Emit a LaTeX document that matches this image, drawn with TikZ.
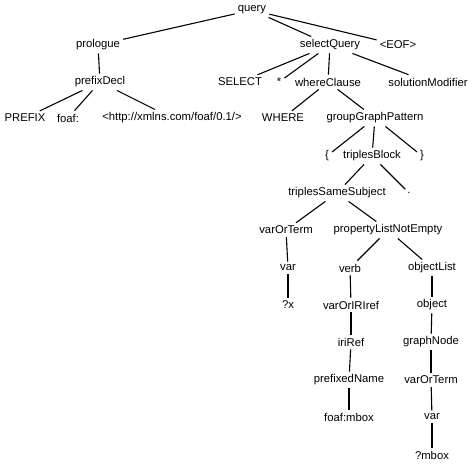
\documentclass[tikz,border=0pt]{standalone}
\usepackage{fontspec}
\setmainfont{Liberation Sans}
\usepackage{tikz}
\usetikzlibrary{positioning}

\begin{document}
\begin{tikzpicture}[x=1pt, y=-1pt, font=\fontsize{11.3}{13}\selectfont,
  tok/.style={inner sep=3pt},
  edge/.style={line width=1.1pt}]
\useasboundingbox (0,0) rectangle (474,466);
% root and first level
\node[tok] (query) at (252,10) {query};
\node[tok] (prologue) at (98,45) {prologue};
\node[tok] (selq) at (330,45) {selectQuery};
\node[tok] (eof) at (398,45) {<EOF>};

% prologue side
\node[tok] (pdecl) at (100,82) {prefixDecl};
\node[tok] (prefix) at (25,118) {PREFIX};
\node[tok] (foaf) at (68,118) {foaf:};
\node[tok] (iri) at (172,118) {<http://xmlns.com/foaf/0.1/>};

% select query side
\node[tok] (select) at (240,82) {SELECT};
\node[tok] (star) at (279,82) {*};
\node[tok] (where) at (328,82) {whereClause};
\node[tok] (solmod) at (428,82) {solutionModifier};
\node[tok] (wherekw) at (283,118) {WHERE};
\node[tok] (ggp) at (375,118) {groupGraphPattern};

\node[tok] (lbrace) at (327,156) {\{};
\node[tok] (tblock) at (372,156) {triplesBlock};
\node[tok] (rbrace) at (422,156) {\}};
\node[tok] (tss) at (337,193) {triplesSameSubject};
\node[tok] (dot) at (409,193) {.};

\node[tok] (vot) at (286,230) {varOrTerm};
\node[tok] (plne) at (388,230) {propertyListNotEmpty};

% subject branch
\node[tok] (svar) at (288,268) {var};
\node[tok] (x) at (288,305) {?x};

% verb branch
\node[tok] (verb) at (350,268) {verb};
\node[tok] (voiri) at (351,305) {varOrIRIref};
\node[tok] (iriref) at (351,342) {iriRef};
\node[tok] (pname) at (349,380) {prefixedName};
\node[tok] (mbox) at (349,417) {foaf:mbox};

% object branch
\node[tok] (olist) at (432,268) {objectList};
\node[tok] (obj) at (432,305) {object};
\node[tok] (gnode) at (431,342) {graphNode};
\node[tok] (ovot) at (431,380) {varOrTerm};
\node[tok] (ovar) at (432,417) {var};
\node[tok] (qmbox) at (432,455) {?mbox};

\draw[edge] (query) -- (prologue);
\draw[edge] (query) -- (selq);
\draw[edge] (query) -- (eof);
\draw[edge] (prologue) -- (pdecl);
\draw[edge] (pdecl) -- (prefix);
\draw[edge] (pdecl) -- (foaf);
\draw[edge] (pdecl) -- (iri);
\draw[edge] (selq) -- (select);
\draw[edge] (selq) -- (star);
\draw[edge] (selq) -- (where);
\draw[edge] (selq) -- (solmod);
\draw[edge] (where) -- (wherekw);
\draw[edge] (where) -- (ggp);
\draw[edge] (ggp) -- (lbrace);
\draw[edge] (ggp) -- (tblock);
\draw[edge] (ggp) -- (rbrace);
\draw[edge] (tblock) -- (tss);
\draw[edge] (tblock) -- (dot);
\draw[edge] (tss) -- (vot);
\draw[edge] (tss) -- (plne);
\draw[edge] (vot) -- (svar);
\draw[edge] (svar) -- (x);
\draw[edge] (plne) -- (verb);
\draw[edge] (plne) -- (olist);
\draw[edge] (verb) -- (voiri);
\draw[edge] (voiri) -- (iriref);
\draw[edge] (iriref) -- (pname);
\draw[edge] (pname) -- (mbox);
\draw[edge] (olist) -- (obj);
\draw[edge] (obj) -- (gnode);
\draw[edge] (gnode) -- (ovot);
\draw[edge] (ovot) -- (ovar);
\draw[edge] (ovar) -- (qmbox);
\end{tikzpicture}
\end{document}
